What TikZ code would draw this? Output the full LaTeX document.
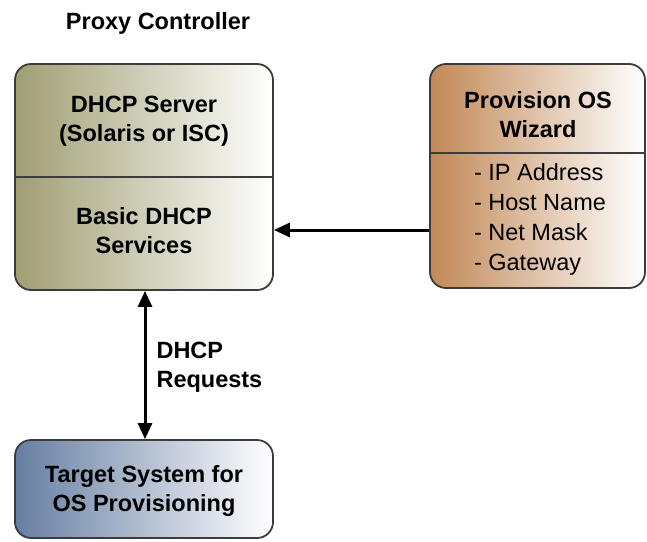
\documentclass[tikz,border=0pt]{standalone}
\usepackage{fontspec}
\setmainfont{Liberation Sans}
\usetikzlibrary{arrows.meta}
\definecolor{olivec}{RGB}{160,158,115}
\definecolor{orangec}{RGB}{194,136,86}
\definecolor{bluec}{RGB}{102,126,162}
\definecolor{edgec}{RGB}{60,60,60}
\tikzset{
  panel/.style={draw=edgec, line width=1.8pt, rounded corners=16pt, inner sep=0pt},
  divider/.style={draw=edgec, line width=1.5pt},
  lbl/.style={font=\fontsize{23.5}{29}\selectfont\bfseries, align=center},
  lst/.style={font=\fontsize{23.5}{30}\selectfont, align=left},
  conn/.style={line width=3pt, -{Triangle[length=16pt,width=14pt]}},
  dconn/.style={line width=3pt, {Triangle[length=16pt,width=14pt]}-{Triangle[length=16pt,width=14pt]}}
}
\begin{document}
\begin{tikzpicture}[x=1pt,y=-1pt]
\useasboundingbox (0,0) rectangle (647,541);
% boxes
\node[panel, minimum width=258pt, minimum height=226pt, left color=olivec, middle color=olivec!65!white, right color=white] (lb) at (144,177) {};
\node[panel, minimum width=215pt, minimum height=224pt, left color=orangec, middle color=orangec!70!white, right color=white] (rb) at (537.5,176) {};
\node[panel, minimum width=258pt, minimum height=98pt, left color=bluec, middle color=bluec!60!white, right color=white] (bb) at (144,489) {};
% dividers
\coordinate (ld) at (0,177);
\coordinate (rd) at (0,153);
\draw[divider] (lb.west |- ld) -- (lb.east |- ld);
\draw[divider] (rb.west |- rd) -- (rb.east |- rd);
% texts
\node[lbl] (title) at (158,23) {Proxy Controller};
\node[lbl] (srv) at (144,121) {DHCP Server\\(Solaris or ISC)};
\node[lbl] (basic) at (144,231) {Basic DHCP\\Services};
\node[lbl] (wiz) at (538,115) {Provision OS\\Wizard};
\node[lst] (items) at (540,219) {- IP Address\\- Host Name\\- Net Mask\\- Gateway};
\node[lbl] (tgt) at (144,491) {Target System for\\OS Provisioning};
% connectors
\coordinate (ha) at (0,230);
\draw[conn] (rb.west |- ha) -- (lb.east |- ha);
\coordinate (va) at (145,0);
\draw[dconn] (lb.south -| va) -- (bb.north -| va);
\node[lbl, align=left, anchor=west] (req) at (153,367) {DHCP\\Requests};
\end{tikzpicture}
\end{document}
